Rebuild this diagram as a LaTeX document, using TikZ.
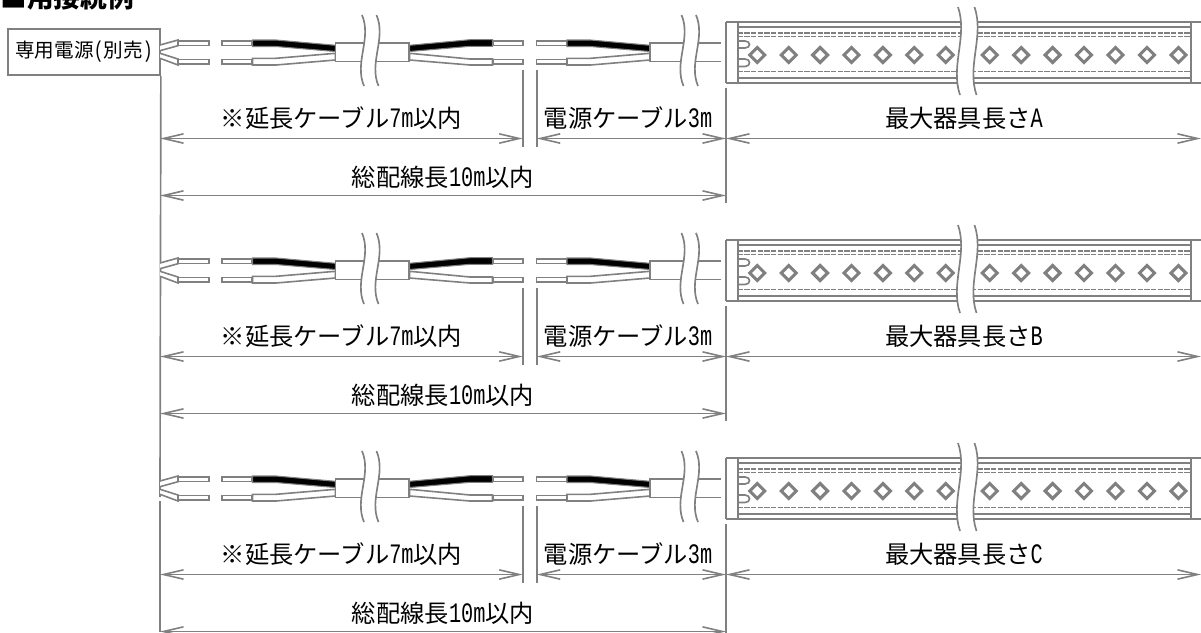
\documentclass[tikz,border=0pt]{standalone}
\usepackage{fontspec}
\usepackage{xcolor}
\usetikzlibrary{arrows.meta, positioning, calc}
\setmainfont{Noto Sans CJK JP}
\newfontfamily\hanfont[Scale=1.16, FakeStretch=0.72]{Liberation Mono}
\definecolor{linegray}{HTML}{808080}
\newcommand{\han}[1]{{\hanfont #1}}

% wavy break: x, top, bottom, gap between the two waves
\newcommand{\cablebreak}[4]{
    \fill[white] (#1,#2) .. controls (#1+10,{#2+(#3-#2)*0.33}) and (#1-8,{#2+(#3-#2)*0.67}) .. (#1+2,#3)
        -- (#1+#4+2,#3) .. controls (#1+#4-8,{#2+(#3-#2)*0.67}) and (#1+#4+10,{#2+(#3-#2)*0.33}) .. (#1+#4,#2) -- cycle;
    \draw[wireline] (#1,#2) .. controls (#1+10,{#2+(#3-#2)*0.33}) and (#1-8,{#2+(#3-#2)*0.67}) .. (#1+2,#3);
    \draw[wireline] (#1+#4,#2) .. controls (#1+#4+10,{#2+(#3-#2)*0.33}) and (#1+#4-8,{#2+(#3-#2)*0.67}) .. (#1+#4+2,#3);
}

\tikzset{
    wireline/.style={draw=linegray, line width=1.25pt},
    wirebox/.style={draw=linegray, line width=1.2pt, fill=white},
    sleeveblack/.style={draw=linegray, line width=0.8pt, fill=black},
    railline/.style={draw=linegray, line width=1.2pt},
    raildash/.style={draw=linegray, line width=1pt, dash pattern=on 4pt off 1pt},
    dimline/.style={draw=linegray, line width=1.2pt, {Straight Barb[length=15pt,width=7pt]}-{Straight Barb[length=15pt,width=7pt]}},
    dimlabel/.style={font=\fontsize{18.2pt}{20pt}\selectfont, inner sep=0pt},
}

\begin{document}
\begin{tikzpicture}[x=0.75pt, y=-0.75pt]
\useasboundingbox (0,0) rectangle (1201,632);

\node[font=\fontsize{20pt}{22pt}\selectfont\bfseries, inner sep=0pt] (title) at (67,-3) {■用接続例};

% Power supply box
\node[draw=linegray, line width=1.3pt, minimum width=114pt, minimum height=34.5pt, inner sep=0pt,
    font=\fontsize{14.7pt}{16pt}\selectfont] (psu) at (84,52) {専用電源\han{(}別売\han{)}};

% Left datum line
\coordinate (gapA) at (160,497);
\coordinate (gapB) at (160,501);
\coordinate (datumEnd) at (160,632);
\draw[wireline] (psu.south east) -- (gapA);
\draw[wireline] (gapB) -- (datumEnd);

\foreach \rowy/\tag in {0/A,218/B,436/C} {
\begin{scope}[shift={(0,\rowy)}]
    % Loose wire ends
    \draw[wirebox] (160,45) -- (178,40) -- (178,45.7) -- (160,50.7);
    \draw[wirebox] (160,53.3) -- (178,59) -- (178,65) -- (160,58.3);
    \draw[wirebox] (178,40.7) rectangle (209,45.5);
    \draw[wirebox] (178,59.3) rectangle (209,64);

    % Sleeves running into the sheath, at both cables
    \foreach \dx in {0,314.5} {
        \draw[wirebox] (222+\dx,40.7) rectangle (252+\dx,45.5);
        \draw[wirebox] (222+\dx,59.3) rectangle (252+\dx,64);
        \draw[sleeveblack] (252.5+\dx,40) -- (276+\dx,40) -- (335.5+\dx,45.3) -- (335.5+\dx,51.5) -- (276+\dx,46.5) -- (252.5+\dx,46.5) -- cycle;
        \draw[wirebox] (252.5+\dx,58.3) -- (276+\dx,58.3) -- (335.5+\dx,53.3) -- (335.5+\dx,60) -- (276+\dx,65) -- (252.5+\dx,65) -- cycle;
    }

    % Extension cable, middle and its far end
    \draw[wirebox] (335.5,42.7) rectangle (409,61.5);
    \draw[sleeveblack] (409.5,45.3) -- (470,39.7) -- (492.5,39.7) -- (492.5,46.3) -- (470,46.3) -- (409.5,51.5) -- cycle;
    \draw[wirebox] (409.5,53.3) -- (470,59) -- (492.5,59) -- (492.5,65) -- (470,65) -- (409.5,60) -- cycle;
    \draw[wirebox] (493,40.7) rectangle (523,45.5);
    \draw[wirebox] (493,59.3) rectangle (523,64);
    \cablebreak{362}{15}{86}{14.5}

    % Power cable
    \draw[wireline] (721,42.7) -- (650,42.7) -- (650,61.5) -- (721,61.5);
    \cablebreak{681.5}{15}{86}{14.5}

    % Fixture body
    \draw[railline] (726,22) -- (1201,22);
    \draw[railline] (737.7,27) -- (1190.7,27);
    \draw[raildash] (737.7,33) -- (1190.7,33);
    \draw[raildash] (737.7,36.5) -- (1190.7,36.5);
    \draw[raildash] (737.7,71.7) -- (1190.7,71.7);
    \draw[railline] (737.7,77.7) -- (1190.7,77.7);
    \draw[railline] (726,82.7) -- (1201,82.7);
    \draw[railline] (726,22) -- (726,82.7);
    \draw[railline] (737.7,22) -- (737.7,82.7);
    \draw[railline] (1190.7,22) -- (1190.7,82.7);
    % Terminals
    \draw[wireline] (738,41) -- (745,41) .. controls (751,41) and (751,48) .. (745,48) -- (738,48);
    \draw[wireline] (738,59) -- (745,59) .. controls (751,59) and (751,66.5) .. (745,66.5) -- (738,66.5);
    % LEDs
    \foreach \k in {0,...,6} {
        \draw[draw=linegray, line width=2.3pt] (757.3+\k*31.4-7.5,55) -- (757.3+\k*31.4,47.5) -- (757.3+\k*31.4+7.5,55) -- (757.3+\k*31.4,62.5) -- cycle;
        \draw[draw=linegray, line width=2.3pt] (989.7+\k*31.45-7.5,55) -- (989.7+\k*31.45,47.5) -- (989.7+\k*31.45+7.5,55) -- (989.7+\k*31.45,62.5) -- cycle;
    }
    \cablebreak{958}{7}{95}{16.5}

    % Extension lines
    \coordinate (extTop\tag) at (522.7,70);
    \coordinate (extBot\tag) at (522.7,146.7);
    \coordinate (pwrTop\tag) at (536.7,70);
    \coordinate (pwrBot\tag) at (536.7,146.7);
    \coordinate (lumTop\tag) at (726,88);
    \coordinate (lumBot\tag) at (726,203);
    \draw[wireline] (extTop\tag) -- (extBot\tag);
    \draw[wireline] (pwrTop\tag) -- (pwrBot\tag);
    \draw[wireline] (lumTop\tag) -- (lumBot\tag);

    % Dimension lines
    \coordinate (dimL\tag) at (160,138.5);
    \coordinate (dimE\tag) at (522.7,138.5);
    \coordinate (dimP\tag) at (536.7,138.5);
    \coordinate (dimM\tag) at (726,138.5);
    \coordinate (dimR\tag) at (1201,138.5);
    \coordinate (totL\tag) at (160,195.5);
    \coordinate (totR\tag) at (726,195.5);
    \draw[dimline] (dimL\tag) -- (dimE\tag);
    \draw[dimline] (dimP\tag) -- (dimM\tag);
    \draw[dimline] (dimM\tag) -- (dimR\tag);
    \draw[dimline] (totL\tag) -- (totR\tag);

    % Labels
    \node[dimlabel] (extLabel\tag) at (341.5,118) {※延長ケーブル\han{7m}以内};
    \node[dimlabel] (pwrLabel\tag) at (628,118.5) {電源ケーブル\han{3m}};
    \node[dimlabel] (maxLabel\tag) at (964,118.5) {最大器具長さ\han{\tag}};
    \node[dimlabel] (totLabel\tag) at (443,177) {総配線長\han{10m}以内};
\end{scope}
}
\end{tikzpicture}
\end{document}
